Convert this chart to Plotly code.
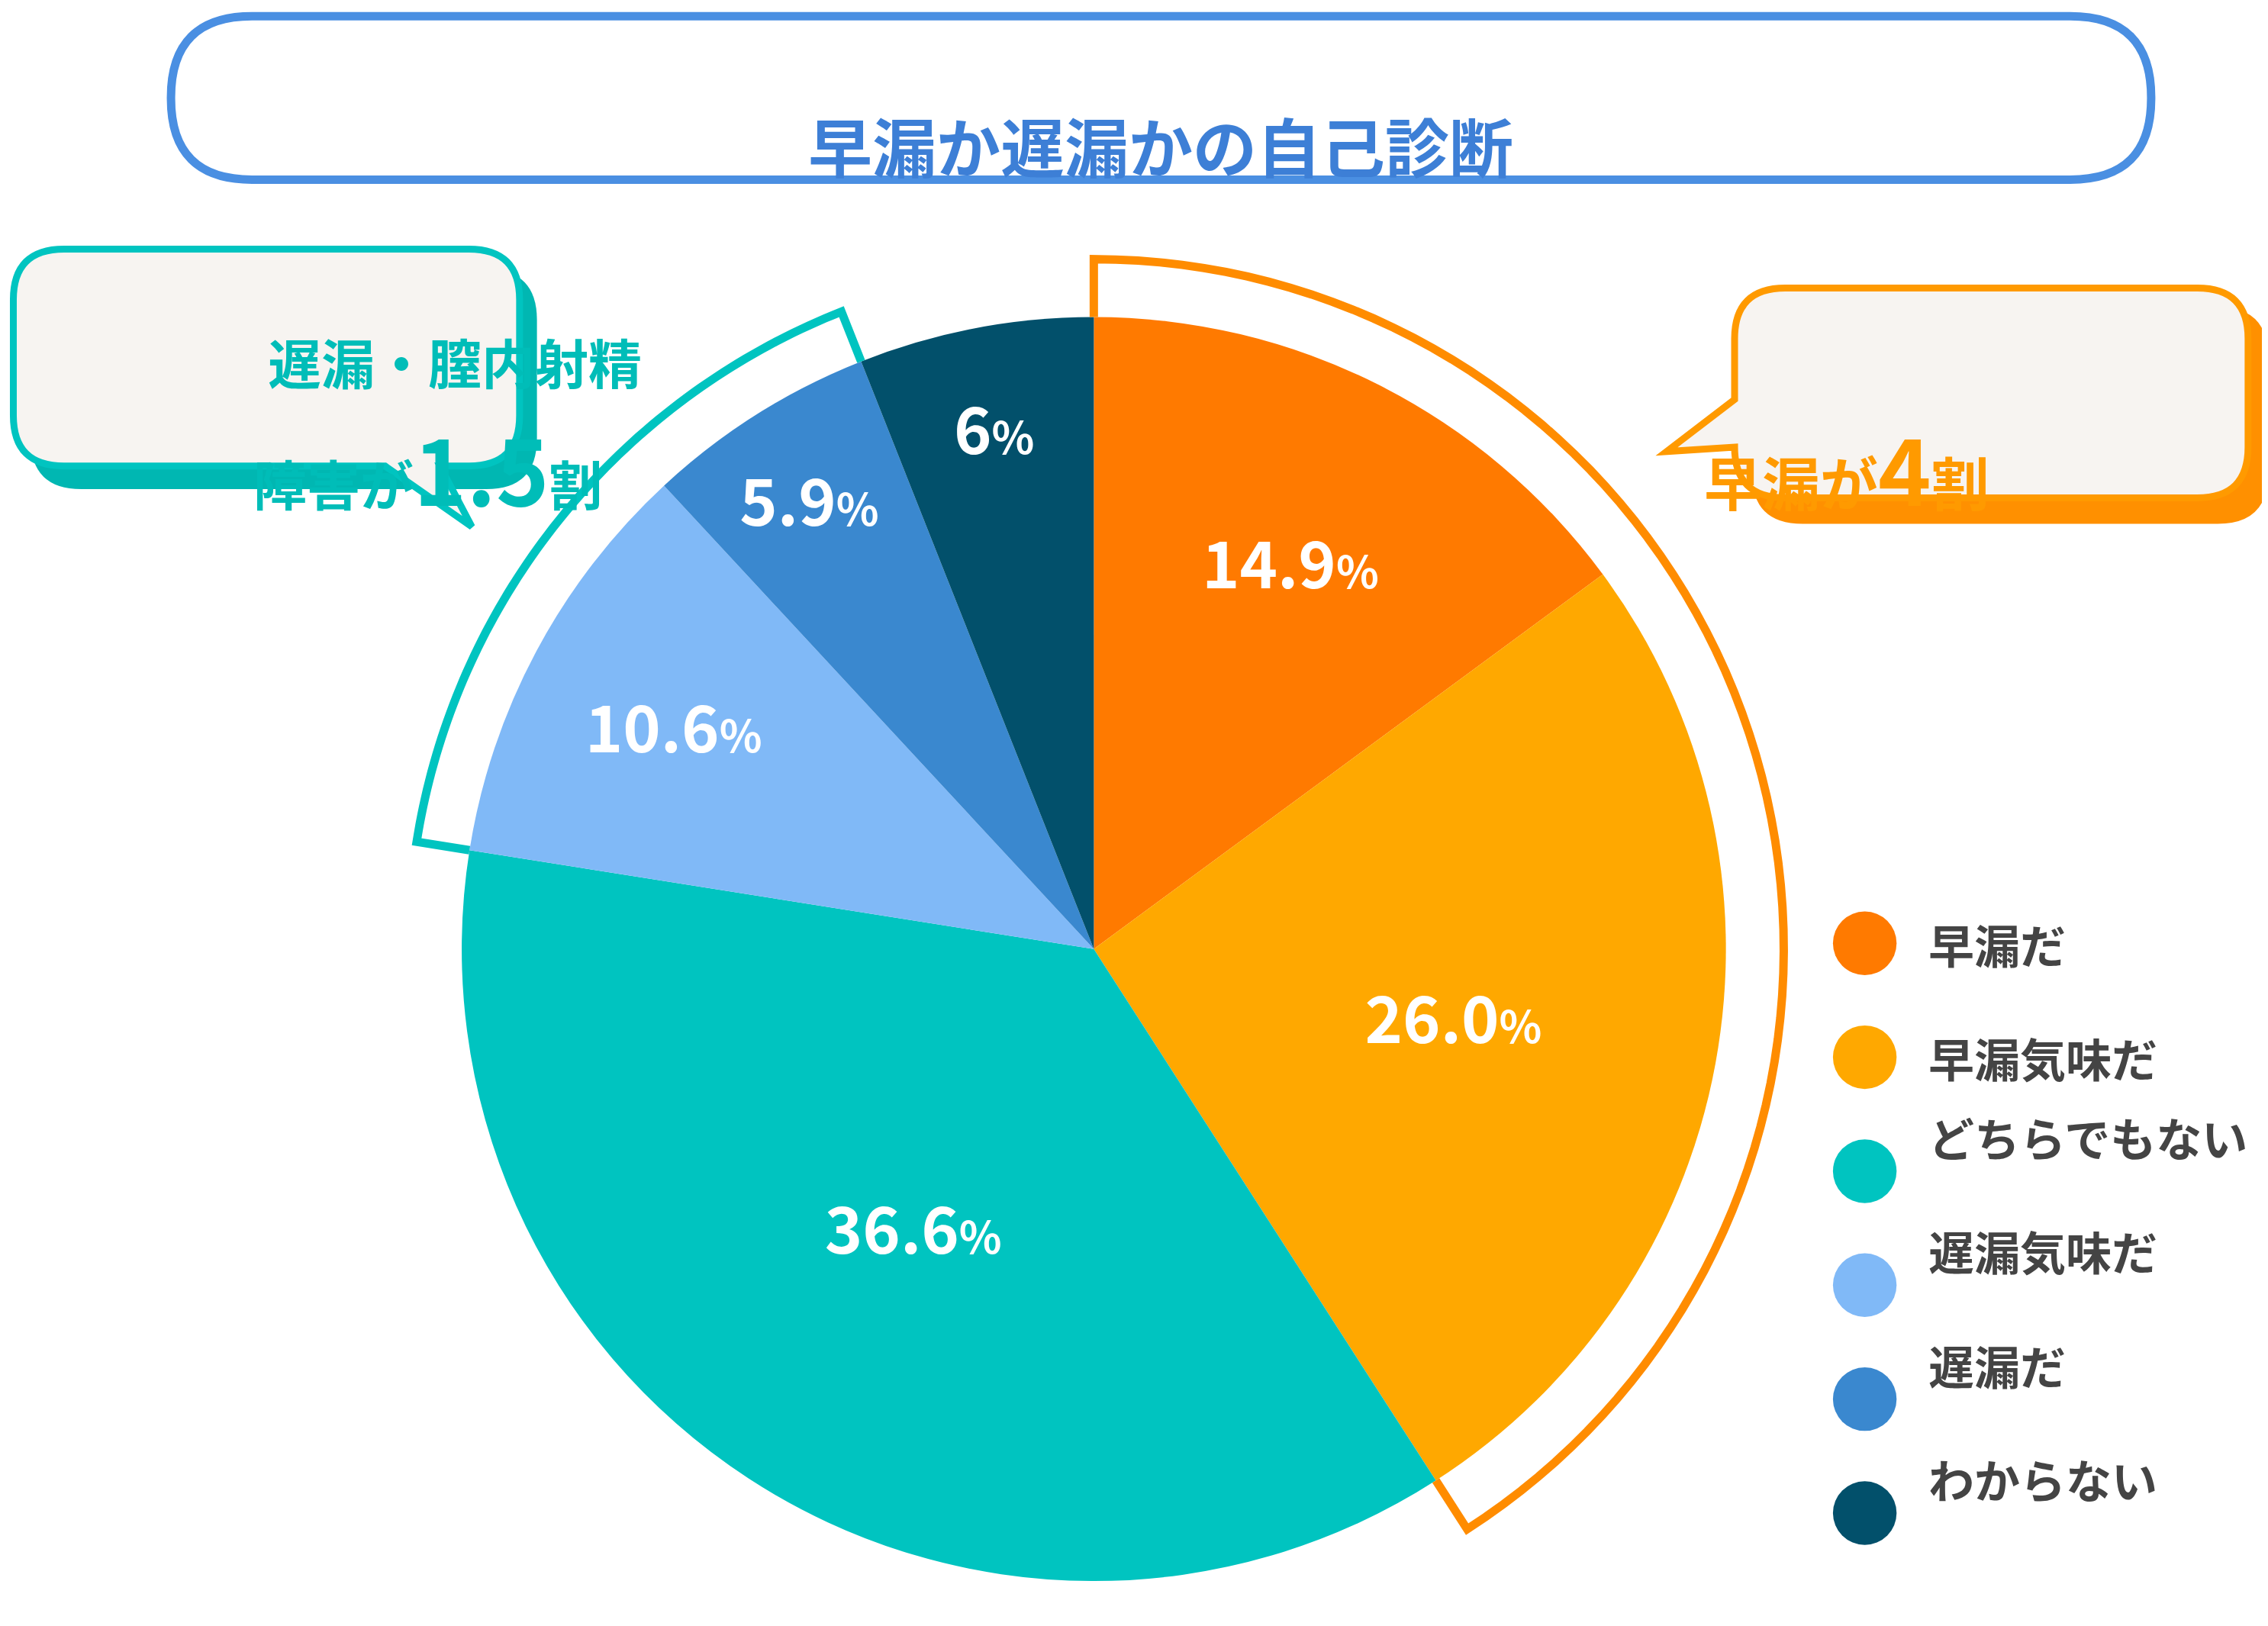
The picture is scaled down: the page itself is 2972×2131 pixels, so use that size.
import math
import plotly.graph_objects as go

labels = ["早漏だ", "早漏気味だ", "どちらでもない", "遅漏気味だ", "遅漏だ", "わからない"]
values = [14.9, 26.0, 36.6, 10.6, 5.9, 6.0]
value_text = ["14.9", "26.0", "36.6", "10.6", "5.9", "6"]
colors = ["#FF7A00", "#FFA800", "#00C4C0", "#80B9F7", "#3A88CF", "#02506B"]

W, H = 2972, 2131
s = W / 1568.0
FONT = "Noto Sans CJK JP"

def px(x): return x * s / W
def py(y): return 1 - y * s / H

cx, cy, R = 752, 652, 437
fig = go.Figure()
fig.add_trace(go.Pie(
    values=values, labels=labels, sort=False, direction="clockwise", rotation=0,
    marker=dict(colors=colors, line=dict(width=0)),
    text=[f"{v}<span style='font-size:58px'>%</span>" for v in value_text],
    textinfo="text", textposition="inside", insidetextorientation="horizontal",
    textfont=dict(family=FONT, size=84, color="white", weight="bold"),
    showlegend=False, hoverinfo="skip",
    domain=dict(x=[px(cx - R), px(cx + R)], y=[py(cy + R), py(cy - R)]),
))

def pt(a, r):
    a = math.radians(a)
    return f"{px(cx + r*math.sin(a)):.5f},{py(cy - r*math.cos(a)):.5f}"

def bracket(a0, a1, r_in, r_out, color):
    p = f"M{pt(a0, r_in)} L{pt(a0, r_out)}"
    n = 80
    for i in range(1, n + 1):
        p += f" L{pt(a0 + (a1 - a0) * i / n, r_out)}"
    p += f" L{pt(a1, r_in)}"
    fig.add_shape(type="path", path=p, xref="paper", yref="paper",
                  line=dict(color=color, width=11), fillcolor="rgba(0,0,0,0)")

cum = [0]
for v in values:
    cum.append(cum[-1] + v)
tot = cum[-1]
bracket(cum[0] / tot * 360, cum[2] / tot * 360, R, 477, "#FF8C00")
bracket(cum[3] / tot * 360, cum[5] / tot * 360, R, 474, "#00C4C0")

def P(x, y): return f"{px(x):.5f},{py(y):.5f}"

def rrect(x0, y0, x1, y1, r, tail=None):
    # tail: ("bottom", xa, xb, apx, apy) or ("left", ya, yb, apx, apy)
    p = f"M{P(x0 + r, y0)} L{P(x1 - r, y0)} Q{P(x1, y0)} {P(x1, y0 + r)} L{P(x1, y1 - r)} Q{P(x1, y1)} {P(x1 - r, y1)}"
    if tail and tail[0] == "bottom":
        _, xa, xb, ax, ay = tail
        p += f" L{P(xb, y1)} L{P(ax, ay)} L{P(xa, y1)}"
    p += f" L{P(x0 + r, y1)} Q{P(x0, y1)} {P(x0, y1 - r)}"
    if tail and tail[0] == "left":
        _, ya, yb, ax, ay = tail
        p += f" L{P(x0, yb)} L{P(ax, ay)} L{P(x0, ya)}"
    p += f" L{P(x0, y0 + r)} Q{P(x0, y0)} {P(x0 + r, y0)} Z"
    return p

# title box
fig.add_shape(type="path", path=rrect(114, 7, 1483, 120, 56), xref="paper", yref="paper",
              line=dict(color="#4A8FE2", width=11), fillcolor="white")
fig.add_annotation(x=px(798), y=py(63), xref="paper", yref="paper", showarrow=False,
                   text="<b>早漏か遅漏かの自己診断</b>", font=dict(family=FONT, size=84, color="#3D7FD6"))

# teal callout
fig.add_shape(type="path", path=rrect(17, 182, 367, 334, 35), xref="paper", yref="paper",
              line=dict(width=0), fillcolor="#00B7B2")
fig.add_shape(type="path", path=rrect(5, 168, 355, 318, 35, ("bottom", 262, 300, 322, 360)),
              xref="paper", yref="paper", line=dict(color="#00C4C0", width=9), fillcolor="#F7F4F1")
fig.add_annotation(x=px(180), y=py(218), xref="paper", yref="paper", showarrow=False,
                   text="<b>遅漏・膣内射精</b>", font=dict(family=FONT, size=70, color="#00BDB8"))
fig.add_annotation(x=px(170), y=py(272), xref="paper", yref="paper", showarrow=False,
                   text="<b>障害が<span style='font-size:118px'>1.5</span>割</b>",
                   font=dict(family=FONT, size=70, color="#00BDB8"))

# orange callout
fig.add_shape(type="path", path=rrect(1207, 208, 1564, 358, 35), xref="paper", yref="paper",
              line=dict(width=0), fillcolor="#FF9000")
fig.add_shape(type="path", path=rrect(1195, 195, 1550, 340, 35, ("left", 272, 305, 1148, 308)),
              xref="paper", yref="paper", line=dict(color="#FF9A00", width=9), fillcolor="#F7F4F1")
fig.add_annotation(x=px(1372), y=py(272), xref="paper", yref="paper", showarrow=False,
                   text="<b>早漏が<span style='font-size:118px'>4</span>割</b>",
                   font=dict(family=FONT, size=76, color="#FF9A00"))

# legend
for i, (lab, col) in enumerate(zip(labels, colors)):
    ly = 648 + i * 78.8
    fig.add_shape(type="circle", xref="paper", yref="paper",
                  x0=px(1263), x1=px(1307), y0=py(ly + 22), y1=py(ly - 22),
                  fillcolor=col, line=dict(width=0))
    fig.add_annotation(x=px(1328), y=py(ly), xref="paper", yref="paper", showarrow=False,
                       xanchor="left", text=f"<b>{lab}</b>",
                       font=dict(family=FONT, size=60, color="#444444"))

fig.update_layout(width=W, height=H, margin=dict(l=0, r=0, t=0, b=0),
                  paper_bgcolor="white", plot_bgcolor="white")
fig.write_html("out.html")
